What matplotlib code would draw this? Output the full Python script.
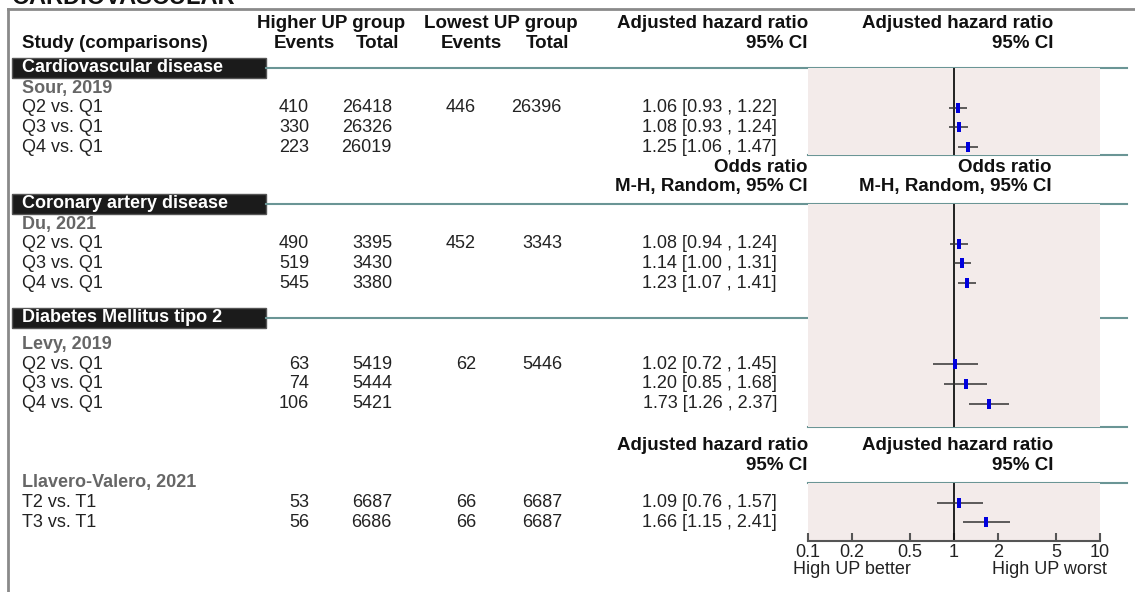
import numpy as np
import matplotlib
matplotlib.use("Agg")
import matplotlib.pyplot as plt
from matplotlib.ticker import FixedLocator, FixedFormatter, NullLocator

plt.rcParams['font.family'] = ['Liberation Sans', 'DejaVu Sans']

# ---- data ----
studies = ["Sour, 2019", "Du, 2021", "Levy, 2019", "Llavero-Valero, 2021"]
outcomes = ["Cardiovascular disease", "Coronary artery disease", "Diabetes Mellitus tipo 2", None]
comparisons = [["Q2 vs. Q1", "Q3 vs. Q1", "Q4 vs. Q1"],
               ["Q2 vs. Q1", "Q3 vs. Q1", "Q4 vs. Q1"],
               ["Q2 vs. Q1", "Q3 vs. Q1", "Q4 vs. Q1"],
               ["T2 vs. T1", "T3 vs. T1"]]
events_high = [[410, 330, 223], [490, 519, 545], [63, 74, 106], [53, 56]]
total_high = [[26418, 26326, 26019], [3395, 3430, 3380], [5419, 5444, 5421], [6687, 6686]]
events_low = [[446, None, None], [452, None, None], [62, None, None], [66, 66]]
total_low = [[26396, None, None], [3343, None, None], [5446, None, None], [6687, 6687]]
estimate = [[1.06, 1.08, 1.25], [1.08, 1.14, 1.23], [1.02, 1.20, 1.73], [1.09, 1.66]]
ci_low = [[0.93, 0.93, 1.06], [0.94, 1.00, 1.07], [0.72, 0.85, 1.26], [0.76, 1.15]]
ci_high = [[1.22, 1.24, 1.47], [1.24, 1.31, 1.41], [1.45, 1.68, 2.37], [1.57, 2.41]]
tick_vals = [0.1, 0.2, 0.5, 1, 2, 5, 10]
tick_labels = ["0.1", "0.2", "0.5", "1", "2", "5", "10"]

# layout (pixel units, y downwards)
name_y = [88, 224, 344.5, 483]
row_step = 19.7
box_y = [68, 204, 318]
panels = [(68, 155), (204, 318), (318, 427), (483, 541)]

teal = "#6a9595"
pink = "#f3ebea"
txt = "#222222"
fs = 13

fig = plt.figure(figsize=(11.35, 5.92), dpi=100)
bg = fig.add_axes([0, 0, 1, 1])
bg.set_xlim(0, 1135)
bg.set_ylim(592, 0)
bg.axis("off")

# page title (cut off at the top, as in the source) and frame
bg.text(12, 4.5, "CARDIOVASCULAR", fontsize=17, fontweight="bold", va="baseline", color="#111111")
bg.plot([8, 1135], [9, 9], color="#8a8a8a", lw=2)
bg.plot([8, 8], [9, 592], color="#8a8a8a", lw=2)

# column headers
hb = dict(fontsize=13.5, fontweight="bold", color="#111111", va="center")
bg.text(331, 24, "Higher UP group", ha="center", **hb)
bg.text(501, 24, "Lowest UP group", ha="center", **hb)
bg.text(808, 24, "Adjusted hazard ratio", ha="right", **hb)
bg.text(1053, 24, "Adjusted hazard ratio", ha="right", **hb)
bg.text(22, 44, "Study (comparisons)", ha="left", **hb)
bg.text(304, 44, "Events", ha="center", **hb)
bg.text(377, 44, "Total", ha="center", **hb)
bg.text(471, 44, "Events", ha="center", **hb)
bg.text(547, 44, "Total", ha="center", **hb)
bg.text(808, 44, "95% CI", ha="right", **hb)
bg.text(1053, 44, "95% CI", ha="right", **hb)

bg.text(808, 167, "Odds ratio", ha="right", **hb)
bg.text(1052, 167, "Odds ratio", ha="right", **hb)
bg.text(808, 186, "M-H, Random, 95% CI", ha="right", **hb)
bg.text(1052, 186, "M-H, Random, 95% CI", ha="right", **hb)
bg.text(808, 446, "Adjusted hazard ratio", ha="right", **hb)
bg.text(1053, 446, "Adjusted hazard ratio", ha="right", **hb)
bg.text(808, 465, "95% CI", ha="right", **hb)
bg.text(1053, 465, "95% CI", ha="right", **hb)

# outcome boxes and separator lines
for lab, y in zip(outcomes, box_y):
    bg.add_patch(plt.Rectangle((12, y - 10), 254, 20, facecolor="#1b1b1b", edgecolor="#555555", lw=1))
    bg.text(22, y, lab, color="white", fontsize=fs, fontweight="bold", va="center", ha="left")
    bg.plot([266, 1127], [y, y], color=teal, lw=1.5)
for y in [155, 427, 483]:
    bg.plot([808, 1127], [y, y], color=teal, lw=1.5, zorder=5)

# table rows
rows_y = []
for i, name in enumerate(studies):
    bg.text(22, name_y[i], name, color="#666666", fontsize=fs, fontweight="bold", va="center")
    ys = name_y[i] + row_step * (np.arange(len(comparisons[i])) + 1)
    rows_y.append(ys)
    for j, y in enumerate(ys):
        bg.text(22, y, comparisons[i][j], color=txt, fontsize=fs, va="center")
        bg.text(309, y, str(events_high[i][j]), color=txt, fontsize=fs, va="center", ha="right")
        bg.text(392, y, str(total_high[i][j]), color=txt, fontsize=fs, va="center", ha="right")
        if events_low[i][j] is not None:
            bg.text(476, y, str(events_low[i][j]), color=txt, fontsize=fs, va="center", ha="right")
            bg.text(562, y, str(total_low[i][j]), color=txt, fontsize=fs, va="center", ha="right")
        s = f"{estimate[i][j]:.2f} [{ci_low[i][j]:.2f} , {ci_high[i][j]:.2f}]"
        bg.text(777, y, s, color=txt, fontsize=fs, va="center", ha="right")

# forest plot axes
fa = fig.add_axes([808 / 1135, (592 - 541) / 592, 292 / 1135, (541 - 68) / 592])
fa.set_xscale("log")
fa.set_xlim(0.1, 10)
fa.set_ylim(541, 68)
fa.patch.set_alpha(0)
for sp in ["top", "left", "right"]:
    fa.spines[sp].set_visible(False)
fa.spines["bottom"].set_color("#555555")
fa.spines["bottom"].set_linewidth(1.5)
fa.yaxis.set_major_locator(NullLocator())
fa.xaxis.set_major_locator(FixedLocator(tick_vals))
fa.xaxis.set_major_formatter(FixedFormatter(tick_labels))
fa.xaxis.set_minor_locator(NullLocator())
fa.tick_params(axis="x", direction="in", length=6, width=1.5, color="#555555",
               labelsize=13, pad=2, labelcolor="#222222")

for y0, y1 in panels:
    fa.axhspan(y0, y1, color=pink, lw=0, zorder=0)
    fa.vlines(1, y0, y1, color="#111111", lw=1.3, zorder=2)

rect = [(-0.45, -1), (0.45, -1), (0.45, 1), (-0.45, 1), (-0.45, -1)]
for i in range(len(studies)):
    ys = rows_y[i]
    fa.hlines(ys, ci_low[i], ci_high[i], color="#333333", lw=1.1, zorder=3)
    fa.plot(estimate[i], ys, ls="none", marker=rect, markersize=6.5,
            color="#0000dd", markeredgewidth=0, zorder=4)

bg.text(793, 570, "High UP better", fontsize=13, color="#222222", va="center", ha="left")
bg.text(1107, 570, "High UP worst", fontsize=13, color="#222222", va="center", ha="right")

fig.savefig("out.png", dpi=100)
